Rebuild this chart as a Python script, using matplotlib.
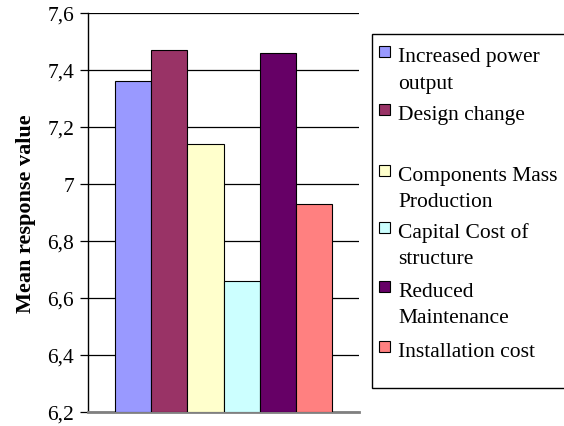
import matplotlib
matplotlib.use("Agg")
import matplotlib.pyplot as plt
from matplotlib.patches import Rectangle

categories = ["Increased power\noutput", "Design change", "Components Mass\nProduction",
              "Capital Cost of\nstructure", "Reduced\nMaintenance", "Installation cost"]
values = [7.36, 7.47, 7.14, 6.66, 7.46, 6.93]
colors = ["#9999FF", "#993366", "#FFFFCC", "#CCFFFF", "#660066", "#FF8080"]
yticks = [6.2, 6.4, 6.6, 6.8, 7.0, 7.2, 7.4, 7.6]
ytick_labels = ["6,2", "6,4", "6,6", "6,8", "7", "7,2", "7,4", "7,6"]

plt.rcParams['font.family'] = ['Liberation Serif', 'DejaVu Serif']

W, H = 564, 427
fig = plt.figure(figsize=(W / 100, H / 100), dpi=100)
ax = fig.add_axes([88 / W, 1 - 413 / H, (359 - 88) / W, (413 - 14) / H])

base = yticks[0]
xs = list(range(len(values)))
ax.bar(xs, [v - base for v in values], bottom=base, width=1.0, color=colors,
       edgecolor="black", linewidth=0.8, zorder=3)
ax.set_xlim(-0.5 - 0.75, len(values) - 0.5 + 0.75)
ax.set_ylim(yticks[0], yticks[-1])
ax.set_yticks(yticks)
ax.set_yticklabels(ytick_labels, fontsize=15.5)
ax.set_xticks([])
ax.yaxis.grid(True, color="black", linewidth=0.9, zorder=0)
ax.set_axisbelow(True)
for s in ["top", "right"]:
    ax.spines[s].set_visible(False)
ax.spines["left"].set_linewidth(1.0)
ax.spines["bottom"].set_color("#808080")
ax.spines["bottom"].set_linewidth(2.0)
ax.tick_params(axis="y", length=6, width=0.9, pad=4, direction="out")
ax.set_ylabel("Mean response value", fontsize=16, fontweight="bold", labelpad=8)

# legend box (right edge runs past the image border, as in the reference)
lx0, ly0, lx1, ly1 = 372, 35, 575, 389
fig.patches.append(Rectangle((lx0 / W, 1 - ly1 / H), (lx1 - lx0) / W, (ly1 - ly0) / H,
                             transform=fig.transFigure, facecolor="white",
                             edgecolor="black", linewidth=1.0))
row_y = [62, 120, 181, 238, 297, 357]
for lab, col, y in zip(categories, colors, row_y):
    fig.patches.append(Rectangle((379 / W, 1 - (y - 4) / H), 11 / W, 11 / H,
                                 transform=fig.transFigure, facecolor=col,
                                 edgecolor="black", linewidth=0.8))
    for i, ln in enumerate(lab.split("\n")):
        fig.text(398 / W, 1 - (y + i * 26.5) / H, ln, fontsize=15.5,
                 va="baseline", ha="left")

fig.savefig("out.png", dpi=100)
